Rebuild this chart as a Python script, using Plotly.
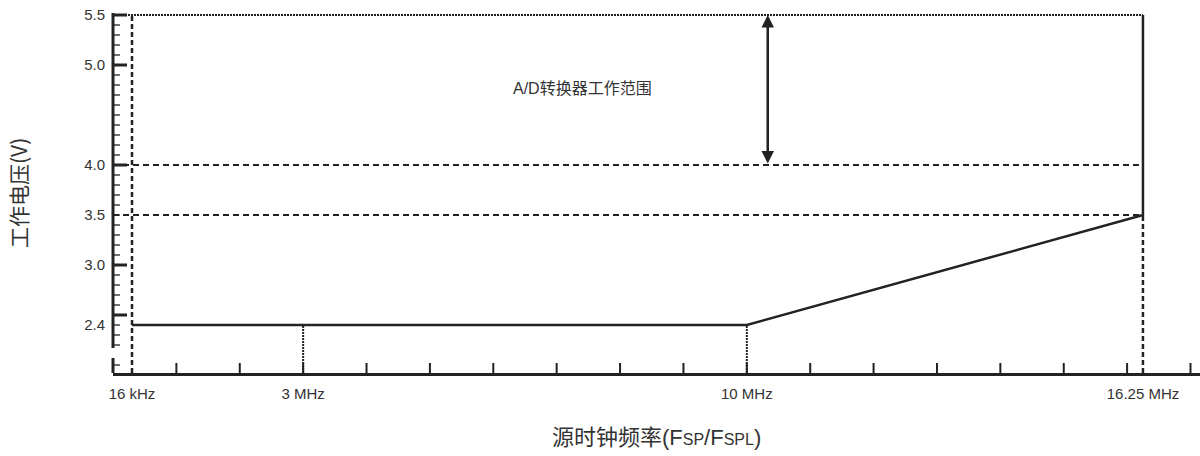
import plotly.graph_objects as go

# Operating-voltage envelope of the A/D converter versus source clock frequency
freq_labels = ["16 kHz", "3 MHz", "10 MHz", "16.25 MHz"]
freq_mhz = [0.016, 3.0, 10.0, 16.25]
volt_min = [2.4, 2.4, 2.4, 3.5]       # lower bound of the operating range
volt_max = 5.5                         # upper bound of the operating range
volt_marks = [5.5, 5.0, 4.0, 3.5, 3.0, 2.4]
volt_ref_lines = [4.0, 3.5]
ad_range = [4.0, 5.5]                  # A/D converter operating range (arrow)

# Axis tick sets
y_major = [5.5, 5.0, 4.0, 3.0, 2.5]
y_minor = [5.4, 5.3, 5.2, 5.1, 4.9, 4.8, 4.7, 4.6, 4.5, 4.4, 4.3, 4.2, 4.1,
           3.9, 3.8, 3.7, 3.6, 3.5, 3.4, 3.3, 3.2, 3.1,
           2.9, 2.8, 2.7, 2.6, 2.4, 2.3, 2.2, 2.0]
x_ticks = list(range(1, 18))

# Schematic layout: the 16 kHz point is drawn just off the origin
LOW_F_DISPLAY = 0.3
X_RANGE = [0, 17.15]
Y_RANGE = [1.92, 5.52]
Y_BREAK = (2.07, 2.17)   # gap in the voltage axis line

INK = "#222222"
TEXT = "#333333"
FONT = "Liberation Sans, Arial, Noto Sans CJK SC, sans-serif"

xpos = [LOW_F_DISPLAY] + freq_mhz[1:]

fig = go.Figure()

# Lower boundary of the operating range, then the vertical edge at max frequency
fig.add_trace(go.Scatter(
    x=xpos + [xpos[-1]], y=volt_min + [volt_max],
    mode="lines", line=dict(color=INK, width=2.5), hoverinfo="skip", showlegend=False))

shapes = []

def seg(x0, y0, x1, y1, dash, width=2, color=INK, xref="x", yref="y"):
    shapes.append(dict(type="line", xref=xref, yref=yref, x0=x0, y0=y0, x1=x1, y1=y1,
                       line=dict(color=color, width=width, dash=dash), layer="above"))

# Upper limit (dotted)
seg(0, volt_max, xpos[-1], volt_max, "2px,1px", 2)
# Reference voltages (dashed)
for v in volt_ref_lines:
    seg(0, v, xpos[-1], v, "6px,4px", 2)
# Frequency drop lines
seg(xpos[0], Y_RANGE[0], xpos[0], volt_max, "5px,3px", 2.5)
seg(xpos[1], Y_RANGE[0], xpos[1], volt_min[1], "2px,1px", 2)
seg(xpos[2], Y_RANGE[0], xpos[2], volt_min[2], "2px,1px", 2)
seg(xpos[3], Y_RANGE[0], xpos[3], volt_min[3], "5px,3px", 2.5)

# Broken voltage axis line
PW, PH = 1087.0, 360.0
seg(0, Y_BREAK[1], 0, Y_RANGE[1], "solid", 3, xref="paper")
seg(0, Y_RANGE[0], 0, Y_BREAK[0], "solid", 3, xref="paper")
for v in y_major:
    seg(0, v, 14 / PW, v, "solid", 3, xref="paper")
for v in y_minor:
    seg(0, v, 7 / PW, v, "solid", 1.3, xref="paper")
for f in x_ticks:
    seg(f, 0, f, 10 / PH, "solid", 2, yref="paper")

fig.update_layout(shapes=shapes)

# Double-headed arrow marking the A/D converter range
arrow_x = 10.33
fig.add_annotation(x=arrow_x, y=ad_range[1], ax=arrow_x, ay=ad_range[0],
                   xref="x", yref="y", axref="x", ayref="y", text="",
                   showarrow=True, arrowhead=2, startarrowhead=2, arrowside="end+start",
                   arrowwidth=2.5, arrowsize=1, arrowcolor=INK,
                   standoff=0, startstandoff=0)
fig.add_annotation(x=7.40, y=4.77, xref="x", yref="y", text="A/D转换器工作范围",
                   showarrow=False, font=dict(family=FONT, size=16, color=TEXT))

# Axis titles
fig.add_annotation(xref="paper", yref="paper", x=0, y=0.5, xshift=-95, xanchor="center",
                   yanchor="middle", text="工作电压(V)", textangle=-90, showarrow=False,
                   font=dict(family="Noto Sans CJK SC, sans-serif", size=21, color=TEXT))
fig.add_annotation(xref="paper", yref="paper", x=0.50, y=0, yshift=-64, yanchor="middle",
                   text="源时钟频率(F<span style='font-size:16px'>SP</span>/F"
                        "<span style='font-size:16px'>SPL</span>)",
                   showarrow=False,
                   font=dict(family="Liberation Sans, Noto Sans CJK SC, sans-serif", size=22, color=TEXT))

fig.update_xaxes(range=X_RANGE, showgrid=False, zeroline=False,
                 showline=True, linecolor=INK, linewidth=3,
                 tickmode="array", tickvals=xpos, ticktext=freq_labels, ticks="",
                 ticklabelstandoff=5,
                 tickfont=dict(family=FONT, size=15, color=TEXT))
fig.update_yaxes(range=Y_RANGE, showgrid=False, zeroline=False, showline=False,
                 tickmode="array", tickvals=volt_marks,
                 ticktext=[f"{v:.1f}" for v in volt_marks], ticks="",
                 ticklabelstandoff=7,
                 tickfont=dict(family=FONT, size=15, color=TEXT))

fig.update_layout(width=1200, height=456, margin=dict(l=113, r=0, t=13, b=83),
                  plot_bgcolor="white", paper_bgcolor="white", showlegend=False)

fig.write_html("out.html")
